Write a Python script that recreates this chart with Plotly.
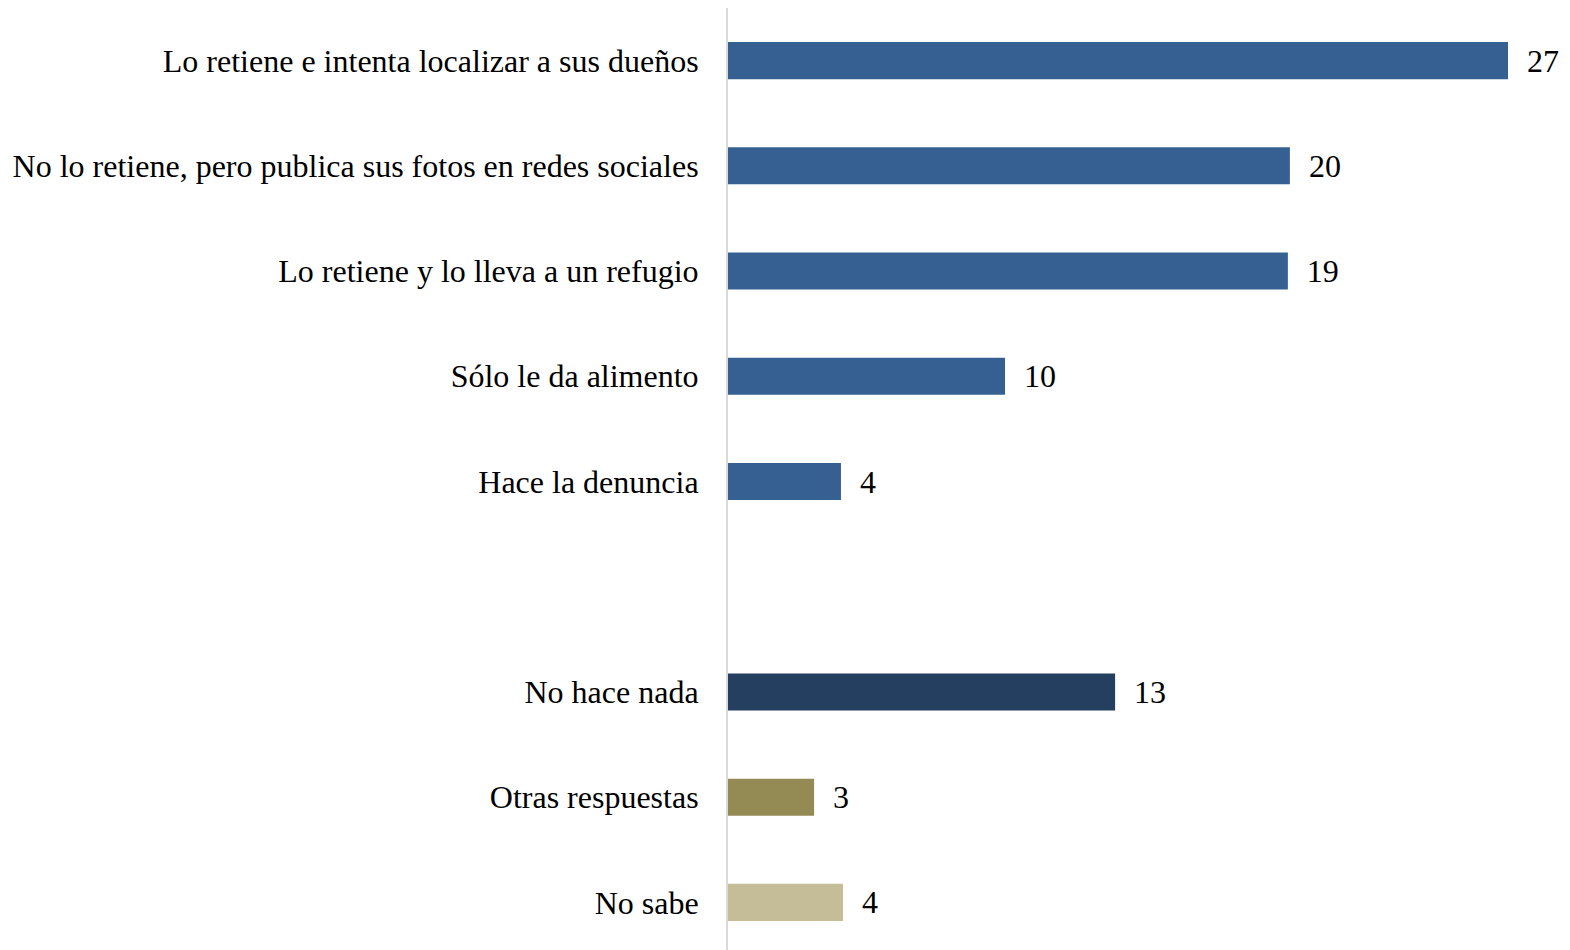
import plotly.graph_objects as go

categories = [
    "Lo retiene e intenta localizar a sus dueños",
    "No lo retiene, pero publica sus fotos en redes sociales",
    "Lo retiene y lo lleva a un refugio",
    "Sólo le da alimento",
    "Hace la denuncia",
    "",
    "No hace nada",
    "Otras respuestas",
    "No sabe",
]
values = [27.0, 19.45, 19.38, 9.59, 3.91, None, 13.40, 2.98, 3.98]
value_labels = ["27", "20", "19", "10", "4", "", "13", "3", "4"]
colors = ["#366092", "#366092", "#366092", "#366092", "#366092", "#366092",
          "#243F60", "#948A54", "#C4BD97"]

positions = list(range(len(categories)))

FONT = "Liberation Serif, Times New Roman, serif"
FS = 32

fig = go.Figure(
    go.Bar(
        x=values,
        y=positions,
        orientation="h",
        marker=dict(color=colors, line=dict(width=0)),
        width=0.352,
        text=["  " + t if t else "" for t in value_labels],
        textposition="outside",
        cliponaxis=False,
        textfont=dict(family=FONT, size=FS, color="#000000"),
        hoverinfo="skip",
    )
)

fig.update_layout(
    width=1562,
    height=947,
    margin=dict(l=720, r=0, t=0, b=0),
    paper_bgcolor="white",
    plot_bgcolor="white",
    showlegend=False,
    font=dict(family=FONT, size=FS, color="#000000"),
    xaxis=dict(
        range=[0, 27 * 842 / 780],
        showgrid=False,
        zeroline=False,
        showticklabels=False,
        showline=False,
        fixedrange=True,
    ),
    yaxis=dict(
        range=[len(categories) - 0.5, -0.5],
        tickmode="array",
        tickvals=positions,
        ticktext=categories,
        showgrid=False,
        zeroline=False,
        showline=True,
        linecolor="#D9D9D9",
        linewidth=2,
        ticks="",
        ticklabelstandoff=21,
        tickfont=dict(family=FONT, size=FS, color="#000000"),
        automargin=False,
        fixedrange=True,
    ),
)

fig.write_html("out.html")
